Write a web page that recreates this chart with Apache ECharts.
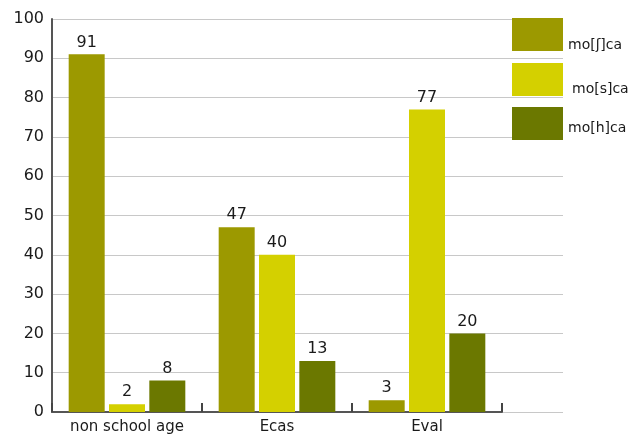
<!DOCTYPE html>
<html>
<head>
<meta charset="utf-8">
<script src="https://cdn.jsdelivr.net/npm/echarts@6/dist/echarts.min.js"></script>
<style>
  html, body { margin: 0; padding: 0; background: #fff; }
  #chart { width: 643px; height: 435px; }
</style>
</head>
<body>
<div id="chart"></div>
<script>
// Categories, series and axis ticks
var categories = ['non school age', 'Ecas', 'Eval'];
var seriesNames = ['mo[ʃ]ca', 'mo[s]ca', 'mo[h]ca'];
var moShca = [91, 47, 3];
var moSca = [2, 40, 77];
var moHca = [8, 13, 20];
var yTicks = [0, 10, 20, 30, 40, 50, 60, 70, 80, 90, 100];

var colors = ['#9c9900', '#d4d000', '#6b7800'];
var font = 'DejaVu Sans, Verdana, sans-serif';
var textColor = '#1a1a1a';

function barSeries(name, data, color) {
  return {
    name: name,
    type: 'bar',
    xAxisIndex: 0,
    yAxisIndex: 0,
    data: data,
    barWidth: 36,
    barGap: '12%',
    itemStyle: { color: color },
    label: {
      show: true,
      position: 'top',
      distance: 4,
      color: textColor,
      fontFamily: font,
      fontSize: 16
    }
  };
}

// Legend label styles: each name sits a little below its swatch centre
var legendRich = {
  l0: { fontFamily: font, fontSize: 14, color: textColor, padding: [21, 0, 0, 0] },
  l1: { fontFamily: font, fontSize: 14, color: textColor, padding: [19, 0, 0, 4] },
  l2: { fontFamily: font, fontSize: 14, color: textColor, padding: [10, 0, 0, 0] }
};

var chart = echarts.init(document.getElementById('chart'), null, { renderer: 'canvas' });
chart.setOption({
  animation: false,
  backgroundColor: '#fff',
  legend: {
    orient: 'vertical',
    left: 512,
    top: 18,
    padding: 0,
    itemWidth: 51,
    itemHeight: 33,
    itemGap: 11,
    itemStyle: { borderWidth: 0 },
    icon: 'rect',
    data: seriesNames,
    formatter: function (name) {
      return '{l' + seriesNames.indexOf(name) + '|' + name + '}';
    },
    textStyle: {
      color: textColor,
      fontFamily: font,
      fontSize: 14,
      rich: legendRich
    }
  },
  grid: [
    { left: 52, right: 141, top: 19, bottom: 23 },
    { left: 52, right: 80, top: 19, bottom: 23 }
  ],
  xAxis: [
    {
      type: 'category',
      gridIndex: 0,
      data: categories,
      axisLine: { lineStyle: { color: '#555', width: 2 } },
      axisTick: { show: true, inside: true, length: 9, alignWithLabel: false, lineStyle: { color: '#444', width: 2 } },
      axisLabel: { color: textColor, fontFamily: font, fontSize: 15, margin: 8 }
    },
    {
      type: 'value',
      gridIndex: 1,
      show: false
    }
  ],
  yAxis: [
    {
      type: 'value',
      gridIndex: 0,
      min: 0,
      max: 100,
      interval: 10,
      axisLine: { show: true, lineStyle: { color: '#555', width: 2 } },
      axisTick: { show: false },
      splitLine: { show: false },
      axisLabel: {
        color: textColor,
        fontFamily: font,
        fontSize: 16,
        margin: 8,
        formatter: function (v) { return yTicks.indexOf(v) >= 0 ? String(v) : ''; }
      }
    },
    {
      type: 'value',
      gridIndex: 1,
      min: 0,
      max: 100,
      interval: 10,
      axisLine: { show: false },
      axisTick: { show: false },
      axisLabel: { show: false },
      splitLine: { show: true, lineStyle: { color: '#c8c8c8', width: 1 } }
    }
  ],
  series: [
    barSeries(seriesNames[0], moShca, colors[0]),
    barSeries(seriesNames[1], moSca, colors[1]),
    barSeries(seriesNames[2], moHca, colors[2])
  ]
});
</script>
</body>
</html>
